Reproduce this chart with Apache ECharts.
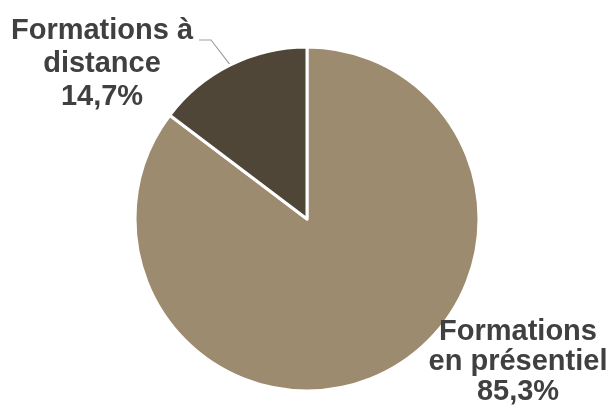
<!DOCTYPE html>
<html>
<head>
<meta charset="utf-8">
<script src="https://cdn.jsdelivr.net/npm/echarts@6/dist/echarts.min.js"></script>
<style>
html, body { margin: 0; padding: 0; background: #fff; }
#chart { width: 615px; height: 412px; }
</style>
</head>
<body>
<div id="chart"></div>
<script>
var names = ['Formations\nen présentiel', 'Formations à\ndistance'];
var values = [85.3, 14.7];
var colors = ['#9c8b6f', '#4f4637'];

var chart = echarts.init(document.getElementById('chart'));

var data = [];
for (var i = 0; i < names.length; i++) {
	data.push({
		name: names[i],
		value: values[i],
		itemStyle: { color: colors[i] },
		label: { lineHeight: i == 1 ? 33 : 30 },
		labelLine: { show: i == 1 }
	});
}

option = {
	animation: false,
	series: [{
		type: 'pie',
		center: [307, 219],
		radius: ['0%', 172],
		startAngle: 90,
		clockwise: true,
		itemStyle: {
			borderColor: '#fff',
			borderWidth: 3
		},
		label: {
			show: true,
			position: 'outside',
			overflow: 'none',
			color: '#404040',
			fontFamily: 'Liberation Sans, Arial, sans-serif',
			fontWeight: 'bold',
			fontSize: 29,
			align: 'center',
			formatter: function (p) {
				return p.name + '\n' + p.value.toFixed(1).replace('.', ',') + '%';
			}
		},
		labelLine: {
			lineStyle: { color: '#a0a0a0', width: 1.2 }
		},
		labelLayout: function (p) {
			if (p.dataIndex == 1) {
				var s = p.labelLinePoints ? p.labelLinePoints[0] : [231, 66];
				return {
					x: 102, y: 64, align: 'center', verticalAlign: 'middle',
					labelLinePoints: [s, [211, 40], [199, 40]]
				};
			}
			return { x: 518, y: 362, align: 'center', verticalAlign: 'middle' };
		},
		data: data
	}]
};

chart.setOption(option);
</script>
</body>
</html>
